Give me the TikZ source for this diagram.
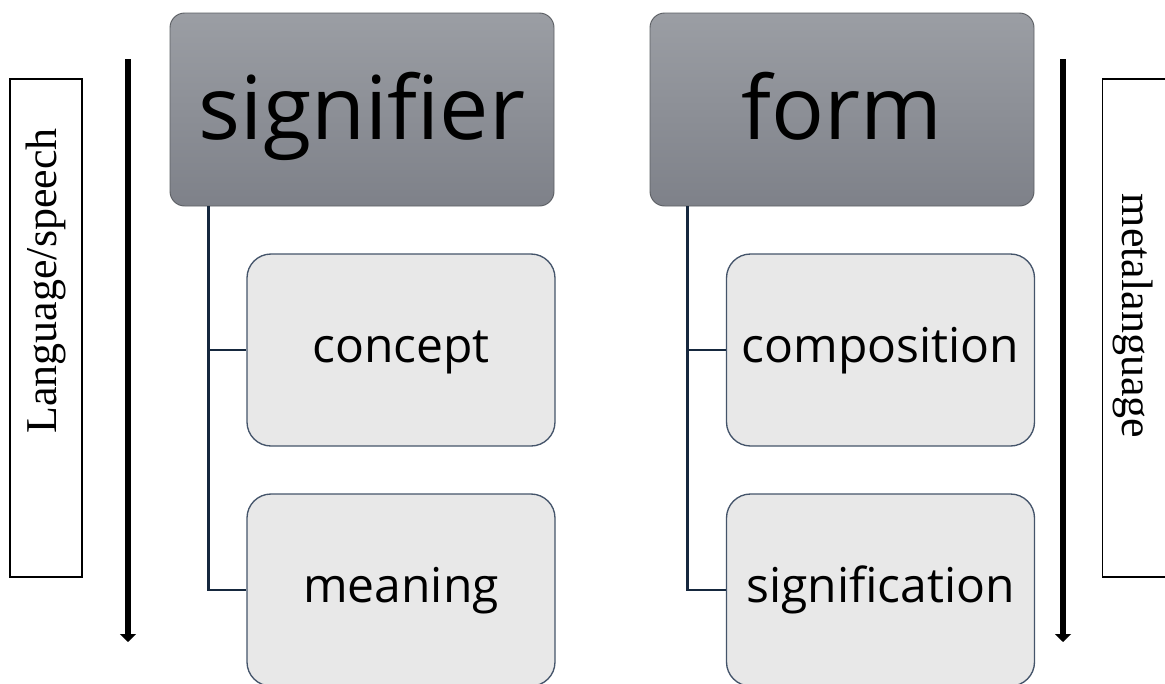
\documentclass[tikz,border=0pt]{standalone}
\usepackage{fontspec}
\setmainfont{Liberation Serif}
\newfontfamily\boxfont{Open Sans}
\usetikzlibrary{arrows.meta}

\definecolor{topfillA}{HTML}{9B9EA4}
\definecolor{topfillB}{HTML}{7E8189}
\definecolor{topline}{HTML}{5C5F64}
\definecolor{subfill}{HTML}{E8E8E8}
\definecolor{subline}{HTML}{44546A}
\definecolor{connline}{HTML}{16283E}

\tikzset{
  headbox/.style={rectangle, rounded corners=11pt, draw=topline, line width=0.7pt,
    top color=topfillA, bottom color=topfillB,
    minimum width=288pt, minimum height=144.75pt, inner sep=0pt,
    font=\boxfont\fontsize{66}{72}\selectfont, text height=45pt, text depth=0pt},
  subbox/.style={rectangle, rounded corners=18pt, draw=subline, line width=1pt,
    fill=subfill, minimum width=231pt, minimum height=144pt, inner sep=0pt,
    font=\boxfont\fontsize{36}{42}\selectfont, text height=19.3pt, text depth=0pt},
  conn/.style={draw=connline, line width=1.9pt},
  sidebox/.style={rectangle, draw=black, line width=1pt, fill=white,
    minimum width=54pt, minimum height=373.5pt, inner sep=0pt},
  sidelabel/.style={font=\fontsize{33}{38}\selectfont, inner sep=0pt},
  flow/.style={line width=4.8pt, -{Triangle[width=12pt,length=6pt]}},
}

\begin{document}
\begin{tikzpicture}[x=0.75pt, y=-0.75pt]
\useasboundingbox (0,0) rectangle (1165,683);

% side frames with their labels
\node[sidebox] (lframe) at (46,328) {};
\node[sidelabel, rotate=90] (llabel) at (46,281) {Language/speech};
\node[sidebox, minimum width=56pt, anchor=west] (rframe) at (1102,328) {};
\node[sidelabel, rotate=-90] (rlabel) at (1133,316) {metalanguage};

% reading-direction arrows
\coordinate (la1) at (128,59);
\coordinate (la2) at (128,642);
\coordinate (ra1) at (1063,59);
\coordinate (ra2) at (1063,642);
\draw[flow] (la1) -- (la2);
\draw[flow] (ra1) -- (ra2);

% left hierarchy
\node[headbox] (sig) at (362,109.5) {signifier};
\node[subbox] (conc) at (401,350) {concept};
\node[subbox] (mean) at (401,590) {meaning};
\draw[conn] ([xshift=29.25pt]sig.south west) |- (conc.west);
\draw[conn] ([xshift=29.25pt]sig.south west) |- (mean.west);

% right hierarchy
\node[headbox] (form) at (842,109.5) {form};
\node[subbox] (comp) at (880.5,350) {composition};
\node[subbox] (signif) at (880.5,590) {signification};
\draw[conn] ([xshift=28.5pt]form.south west) |- (comp.west);
\draw[conn] ([xshift=28.5pt]form.south west) |- (signif.west);
\end{tikzpicture}
\end{document}
